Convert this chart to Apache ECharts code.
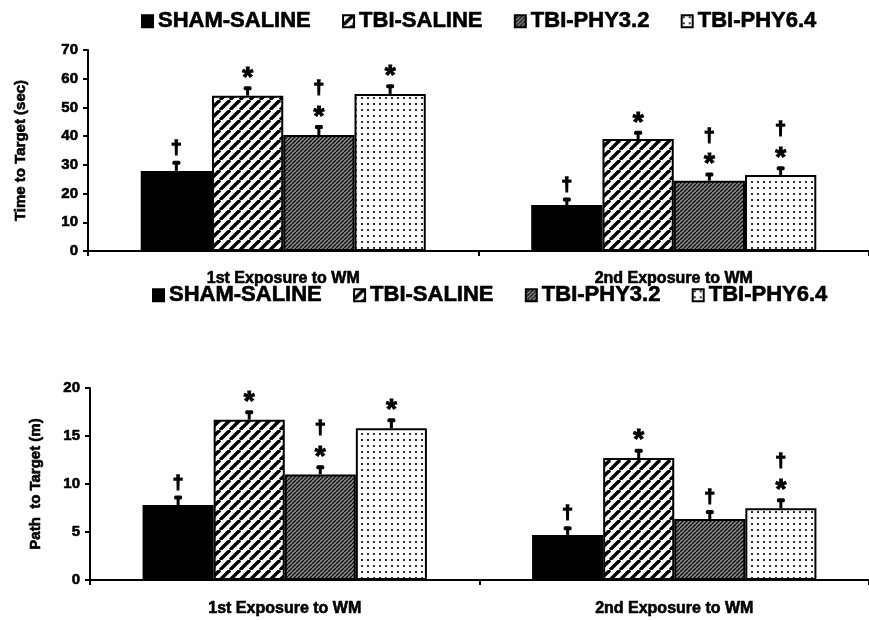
<!DOCTYPE html>
<html>
<head>
<meta charset="utf-8">
<script src="https://cdn.jsdelivr.net/npm/echarts@6/dist/echarts.min.js"></script>
<style>html,body{margin:0;padding:0;background:#fff}#c{width:869px;height:620px}</style>
</head>
<body>
<div id="c"></div>
<script>
// ---- data ----
const categories = ['1st Exposure to WM', '2nd Exposure to WM'];
const seriesNames = ['SHAM-SALINE', 'TBI-SALINE', 'TBI-PHY3.2', 'TBI-PHY6.4'];

const timeSham   = [27.9, 16.0];
const timeTbiSal = [54.1, 39.0];
const timePhy32  = [40.4, 24.5];
const timePhy64  = [54.7, 26.5];
const timeShamErr   = [3.2, 2.3];
const timeTbiSalErr = [2.9, 2.5];
const timePhy32Err  = [3.1, 2.5];
const timePhy64Err  = [3.0, 2.7];
const timeShamSig   = ['†', '†'];
const timeTbiSalSig = ['*', '*'];
const timePhy32Sig  = ['†*', '†*'];
const timePhy64Sig  = ['*', '†*'];
const timeTicks = [0, 10, 20, 30, 40, 50, 60, 70];

const pathSham   = [7.8, 4.7];
const pathTbiSal = [16.7, 12.7];
const pathPhy32  = [11.0, 6.35];
const pathPhy64  = [15.8, 7.47];
const pathShamErr   = [0.9, 0.8];
const pathTbiSalErr = [0.87, 0.87];
const pathPhy32Err  = [0.86, 0.83];
const pathPhy64Err  = [0.95, 0.95];
const pathShamSig   = ['†', '†'];
const pathTbiSalSig = ['*', '*'];
const pathPhy32Sig  = ['†*', '†'];
const pathPhy64Sig  = ['*', '†*'];
const pathTicks = [0, 5, 10, 15, 20];

// ---- patterns ----
function stripes(size, bg, fg, lw) {
  const c = document.createElement('canvas'); c.width = size; c.height = size;
  const g = c.getContext('2d');
  g.fillStyle = bg; g.fillRect(0, 0, size, size);
  g.strokeStyle = fg; g.lineWidth = lw;
  for (const o of [-size, 0, size]) { g.beginPath(); g.moveTo(o, size); g.lineTo(o + size, 0); g.stroke(); }
  return c;
}
function dots(size, dot, fg) {
  const c = document.createElement('canvas'); c.width = size; c.height = size;
  const g = c.getContext('2d');
  g.fillStyle = '#fff'; g.fillRect(0, 0, size, size);
  g.fillStyle = fg; g.fillRect(1, 1, dot, dot);
  return c;
}
const fills = [
  '#000',
  { image: stripes(10, '#fff', '#000', 3.4), repeat: 'repeat' },
  { image: stripes(4, '#8a8a8a', '#111', 1.4), repeat: 'repeat' },
  { image: dots(6, 2, '#333'), repeat: 'repeat' }
];

const GAP = 0.27;
const FONT = '"Liberation Sans", Arial, sans-serif';
const HEAVY = { fontWeight: 'bold', fontFamily: FONT, color: '#000', textBorderColor: '#000', textBorderWidth: 0.6 };

function barSeries(i, vals, xi) {
  return {
    type: 'bar', name: seriesNames[i], xAxisIndex: xi, yAxisIndex: xi,
    data: vals, barGap: '0%', barCategoryGap: (GAP * 100) + '%',
    itemStyle: { color: fills[i], borderColor: '#000', borderWidth: 2 },
    silent: true
  };
}
function errSeries(i, vals, errs, sigs, xi) {
  return {
    type: 'custom', name: 'err' + xi + i, xAxisIndex: xi, yAxisIndex: xi, z: 5, silent: true,
    data: vals.map((v, k) => [k, v, errs[k]]),
    renderItem: function (params, api) {
      const k = api.value(0), v = api.value(1), e = api.value(2);
      const base = api.coord([k, v]);
      const top = api.coord([k, v + e]);
      const cw = api.size([1, 0])[0];
      const bw = cw * (1 - GAP) / 4;
      const x = base[0] + (i - 1.5) * bw;
      const ch = [
        { type: 'rect', shape: { x: x - 1.5, y: top[1], width: 3, height: base[1] - top[1] }, style: { fill: '#000' } },
        { type: 'rect', shape: { x: x - 4, y: top[1] - 1, width: 8, height: 4, r: 1.5 }, style: { fill: '#000' } }
      ];
      const s = sigs[k];
      let y = top[1];
      const hasStar = s.indexOf('*') >= 0, hasDag = s.indexOf('†') >= 0;
      if (hasStar) {
        y -= 16;
        ch.push({ type: 'text', style: { text: '*', x: x, y: y + 7, fontSize: 28, fontWeight: 'bold', fontFamily: FONT, align: 'center', verticalAlign: 'middle', fill: '#000', stroke: '#000', lineWidth: 1 } });
      }
      if (hasDag) {
        y -= hasStar ? 22 : 14;
        ch.push({ type: 'text', style: { text: '†', x: x, y: y, fontSize: 19, fontWeight: 'bold', fontFamily: FONT, align: 'center', verticalAlign: 'middle', fill: '#000', stroke: '#000', lineWidth: 1.4 } });
      }
      return { type: 'group', children: ch };
    }
  };
}

const axisLine = { show: true, lineStyle: { color: '#000', width: 2 } };
function xAx(gi, margin) {
  return {
    type: 'category', gridIndex: gi, data: categories,
    axisLine: axisLine, axisTick: { show: true, length: 5, lineStyle: { color: '#000', width: 2 } },
    axisLabel: Object.assign({ margin: margin, fontSize: 16 }, HEAVY),
    splitLine: { show: false }
  };
}
function yAx(gi, ticks, name, gap) {
  return {
    type: 'value', gridIndex: gi, min: ticks[0], max: ticks[ticks.length - 1], interval: ticks[1] - ticks[0],
    name: name, nameLocation: 'middle', nameGap: gap,
    nameTextStyle: Object.assign({ fontSize: 15 }, HEAVY),
    axisLine: axisLine, axisTick: { show: true, length: 5, lineStyle: { color: '#000', width: 2 } },
    axisLabel: Object.assign({ margin: 10, fontSize: 15 }, HEAVY),
    splitLine: { show: false }
  };
}
const legendCommon = {
  data: seriesNames, icon: 'rect', itemWidth: 11, itemHeight: 12, itemGap: 31, selectedMode: false,
  textStyle: Object.assign({ fontSize: 22, padding: [0, 0, 0, 0] }, HEAVY)
};

const chart = echarts.init(document.getElementById('c'), null, { renderer: 'canvas' });
chart.setOption({
  animation: false,
  backgroundColor: '#fff',
  legend: [
    Object.assign({ left: 136, top: 5 }, legendCommon),
    Object.assign({ left: 147, top: 279 }, legendCommon)
  ],
  grid: [
    { left: 88, top: 50, width: 790, height: 201 },
    { left: 90, top: 388, width: 782, height: 192 }
  ],
  xAxis: [xAx(0, 20), xAx(1, 21)],
  yAxis: [yAx(0, timeTicks, 'Time to Target (sec)', 60), yAx(1, pathTicks, 'Path  to Target (m)', 47)],
  series: [
    barSeries(0, timeSham, 0), barSeries(1, timeTbiSal, 0), barSeries(2, timePhy32, 0), barSeries(3, timePhy64, 0),
    errSeries(0, timeSham, timeShamErr, timeShamSig, 0),
    errSeries(1, timeTbiSal, timeTbiSalErr, timeTbiSalSig, 0),
    errSeries(2, timePhy32, timePhy32Err, timePhy32Sig, 0),
    errSeries(3, timePhy64, timePhy64Err, timePhy64Sig, 0),
    barSeries(0, pathSham, 1), barSeries(1, pathTbiSal, 1), barSeries(2, pathPhy32, 1), barSeries(3, pathPhy64, 1),
    errSeries(0, pathSham, pathShamErr, pathShamSig, 1),
    errSeries(1, pathTbiSal, pathTbiSalErr, pathTbiSalSig, 1),
    errSeries(2, pathPhy32, pathPhy32Err, pathPhy32Sig, 1),
    errSeries(3, pathPhy64, pathPhy64Err, pathPhy64Sig, 1)
  ]
});
</script>
</body>
</html>
